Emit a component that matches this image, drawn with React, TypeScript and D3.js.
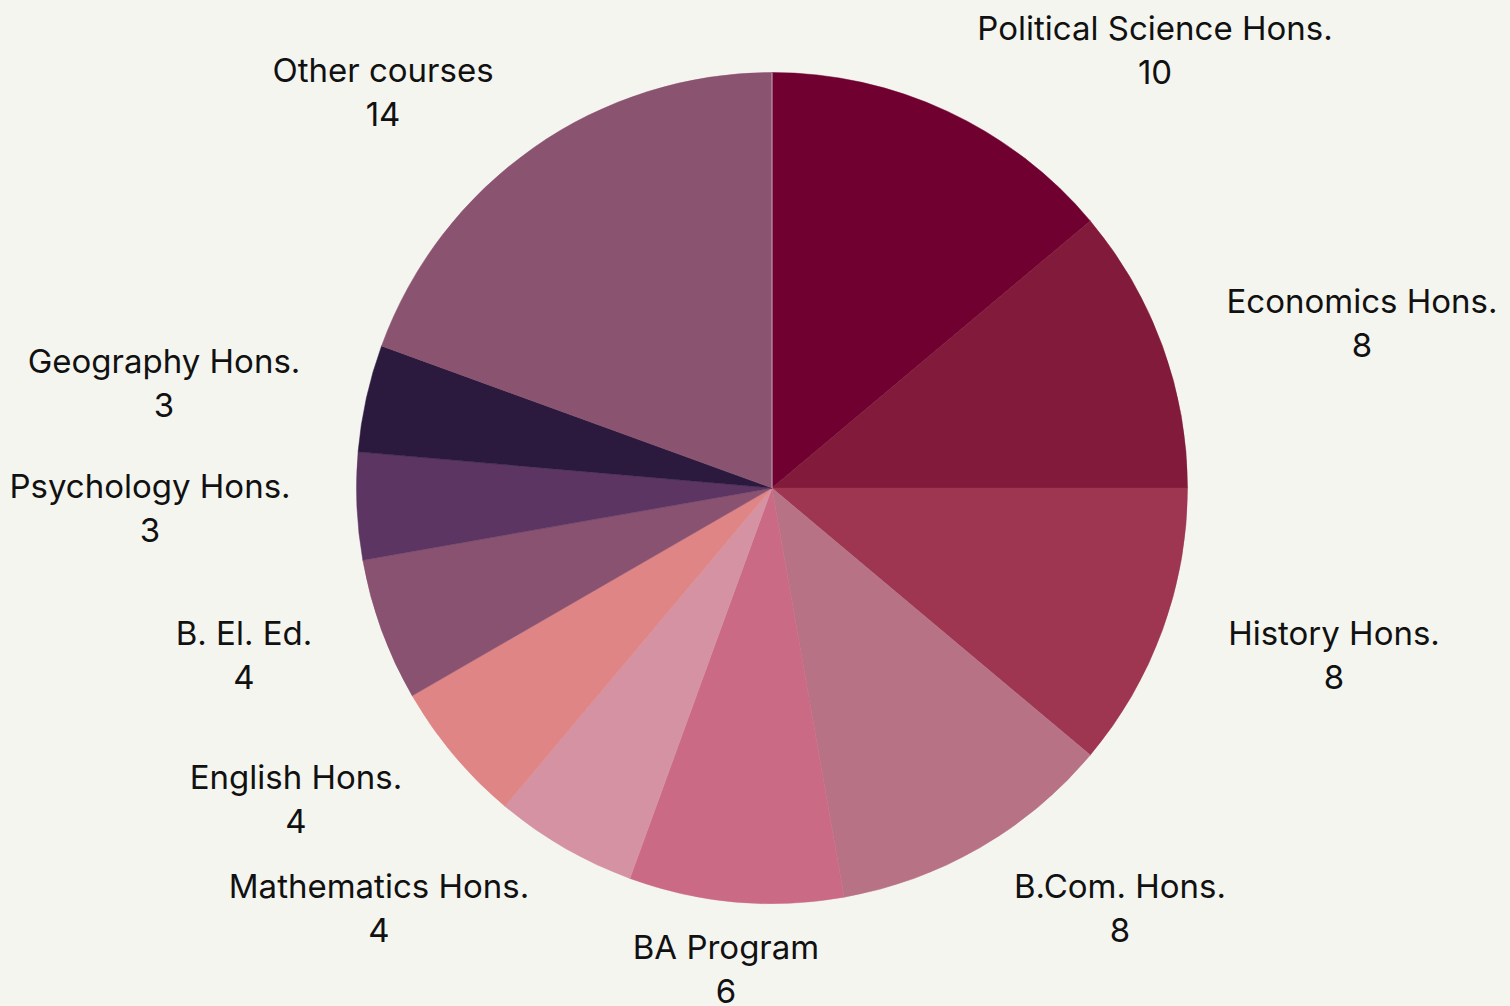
import React from "react";
import * as d3 from "d3";

const categories = [
  "Political Science Hons.",
  "Economics Hons.",
  "History Hons.",
  "B.Com. Hons.",
  "BA Program",
  "Mathematics Hons.",
  "English Hons.",
  "B. El. Ed.",
  "Psychology Hons.",
  "Geography Hons.",
  "Other courses",
];
const values = [10, 8, 8, 8, 6, 4, 4, 4, 3, 3, 14];
const colors = [
  "#6f0030",
  "#821a3b",
  "#9e3652",
  "#b87285",
  "#cb6a85",
  "#d592a3",
  "#e08585",
  "#895270",
  "#5d3563",
  "#2b1a3e",
  "#8a5370",
];
// label layout: center x, baseline of first line
const labelLayout: [number, number][] = [
  [1155, 40],
  [1362, 313],
  [1334, 645],
  [1120, 898],
  [726, 959],
  [379, 898],
  [296, 789],
  [244, 645],
  [150, 498],
  [164, 373],
  [383, 82],
];

const W = 1510;
const H = 1006;
const CX = 772;
const CY = 488;
const R = 415.5;

export default function App() {
  const data = categories.map((c, i) => ({ name: c, value: values[i], color: colors[i] }));
  const pie = d3
    .pie<{ name: string; value: number; color: string }>()
    .sort(null)
    .value((d) => d.value)
    .startAngle(0)
    .endAngle(2 * Math.PI);
  const arcs = pie(data);
  const arc = d3
    .arc<d3.PieArcDatum<{ name: string; value: number; color: string }>>()
    .innerRadius(0)
    .outerRadius(R);

  return (
    <svg
      width={W}
      height={H}
      style={{ position: "absolute", left: 0, top: 0, display: "block" }}
    >
      <rect x={0} y={0} width={W} height={H} fill="#f5f5f0" />
      <g transform={`translate(${CX},${CY})`}>
        {arcs.map((a, i) => (
          <path key={i} d={arc(a) || ""} fill={a.data.color} stroke={a.data.color} strokeWidth={0.5} />
        ))}
        <line x1={0} y1={0} x2={0} y2={-R} stroke="#c9a3b3" strokeWidth={1} />
      </g>
      <g
        fontFamily="Inter, sans-serif"
        fontSize={33}
        fill="#111111"
        textAnchor="middle"
      >
        {arcs.map((a, i) => (
          <text key={i} x={labelLayout[i][0]} y={labelLayout[i][1]}>
            <tspan x={labelLayout[i][0]}>{a.data.name}</tspan>
            <tspan x={labelLayout[i][0]} dy={44}>
              {String(a.data.value)}
            </tspan>
          </text>
        ))}
      </g>
    </svg>
  );
}
